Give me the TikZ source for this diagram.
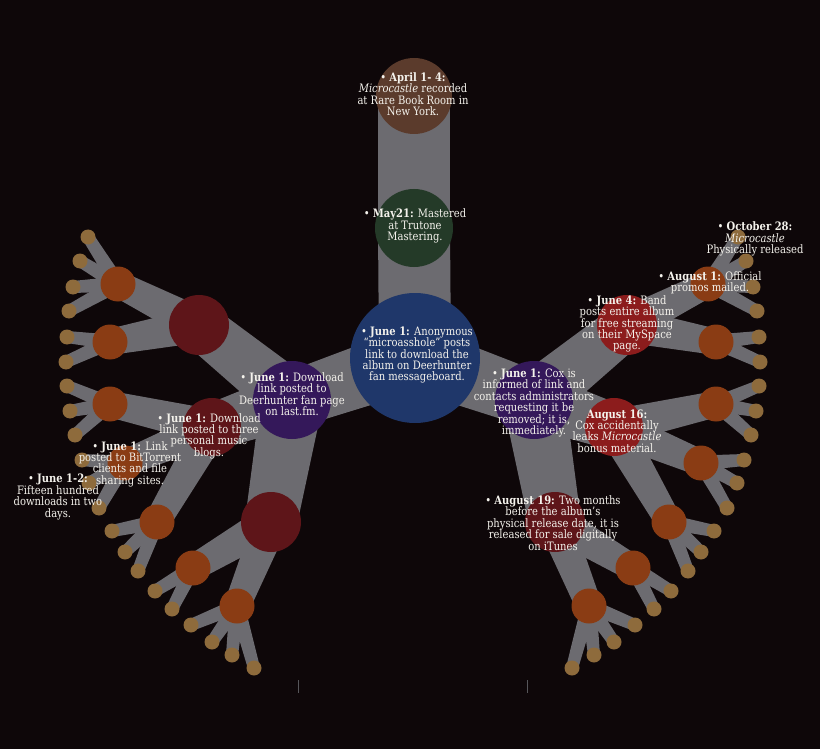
\documentclass[tikz,border=0pt]{standalone}
\usepackage{fontspec}
\setmainfont{DejaVu Serif}[FakeStretch=0.86]
\usetikzlibrary{calc}
\definecolor{bgc}{HTML}{0E0709}
\definecolor{branchc}{HTML}{6C6B70}
\definecolor{brownc}{HTML}{5B3B2C}
\definecolor{greenc}{HTML}{243A28}
\definecolor{bluec}{HTML}{1F376A}
\definecolor{purplec}{HTML}{34185A}
\definecolor{dredc}{HTML}{5E1519}
\definecolor{bredc}{HTML}{8C1C1C}
\definecolor{orangec}{HTML}{8A3C14}
\definecolor{tanc}{HTML}{8E6B3C}
\definecolor{txtc}{HTML}{F4F2EC}
\newcommand\twig[4]{\fill[branch] ($(#1)!#3!90:(#2)$) -- ($(#2)!#4!-90:(#1)$) -- ($(#2)!#4!90:(#1)$) -- ($(#1)!#3!-90:(#2)$) -- cycle;}
\begin{document}
\begin{tikzpicture}[x=1pt,y=-1pt,
  branch/.style={fill=branchc},
  disc/.style={circle,inner sep=0pt,minimum size=#1},
  txt/.style={text=txtc,align=center,inner sep=0pt,font=\fontsize{11.6}{11.4}\selectfont},
  tick/.style={draw=branchc!80!black,line width=0.8pt}]
\fill[bgc] (0,0) rectangle (820,749);
\useasboundingbox (0,0) rectangle (820,749);
% positions
\coordinate (Br) at (414,96);
\coordinate (G) at (414,228);
\coordinate (B) at (415,358);
\foreach \s/\p in {-1/L,1/R}{
  \coordinate (\p-P) at ({413+\s*121},400);
  \coordinate (\p-R1) at ({413+\s*214},325);
  \coordinate (\p-R2) at ({413+\s*201},427);
  \coordinate (\p-R3) at ({413+\s*142},522);
  \coordinate (\p-O1) at ({413+\s*295},284);
  \coordinate (\p-O2) at ({413+\s*303},342);
  \coordinate (\p-O3) at ({413+\s*303},404);
  \coordinate (\p-O4) at ({413+\s*288},463);
  \coordinate (\p-O5) at ({413+\s*256},522);
  \coordinate (\p-O6) at ({413+\s*220},568);
  \coordinate (\p-O7) at ({413+\s*176},606);
  \foreach \n/\dx/\y in {1/325/237,2/333/261,3/340/287,4/344/311,5/346/337,6/347/362,7/346/386,8/343/411,9/338/435,10/331/460,11/324/483,12/314/508,13/301/531,14/288/552,15/275/571,16/258/591,17/241/609,18/222/625,19/201/642,20/181/655,21/159/668}{
    \coordinate (\p-t\n) at ({413+\s*\dx},\y);
  }
}
% trunk and branches
\twig{Br}{G}{36pt}{36pt}
\twig{G}{B}{36pt}{36pt}
\foreach \p in {L,R}{
  \twig{B}{\p-P}{32pt}{28pt}
  \twig{\p-P}{\p-R1}{28pt}{23pt}
  \twig{\p-P}{\p-R2}{28pt}{23pt}
  \twig{\p-P}{\p-R3}{31pt}{26pt}
  \foreach \r/\o in {R1/O1,R1/O2,R2/O3,R2/O4,R2/O5,R3/O6,R3/O7}{\twig{\p-\r}{\p-\o}{17.5pt}{13pt}}
  \foreach \o/\t in {O1/1,O1/2,O1/3,O1/4,O2/5,O2/6,O3/7,O3/8,O3/9,O4/10,O4/11,O4/12,O5/13,O5/14,O5/15,O6/16,O6/17,O7/18,O7/19,O7/20,O7/21}{\twig{\p-\o}{\p-t\t}{7.5pt}{6pt}}
}
% circles
\node[disc=76pt,fill=brownc] (brown) at (Br) {};
\node[disc=78pt,fill=greenc] (green) at (G) {};
\node[disc=130pt,fill=bluec] (blue) at (B) {};
\foreach \p/\ca/\cb in {L/dredc/dredc,R/bredc/bredc}{
  \node[disc=78pt,fill=purplec] (\p-Pc) at (\p-P) {};
  \node[disc=60pt,fill=\ca] (\p-R1c) at (\p-R1) {};
  \node[disc=58pt,fill=\cb] (\p-R2c) at (\p-R2) {};
  \node[disc=60pt,fill=dredc] (\p-R3c) at (\p-R3) {};
  \foreach \o in {O1,O2,O3,O4,O5,O6,O7}{\node[disc=35pt,fill=orangec] (\p-\o c) at (\p-\o) {};}
  \foreach \n in {1,...,21}{\node[disc=15pt,fill=tanc] (\p-t\n c) at (\p-t\n) {};}
}
% small ticks at the bottom
\coordinate (k1a) at (298,680); \coordinate (k1b) at (298,693);
\coordinate (k2a) at (527,680); \coordinate (k2b) at (527,693);
\draw[tick] (k1a) -- (k1b);
\draw[tick] (k2a) -- (k2b);
% texts
\node[txt] (tA) at (413,94) {• \textbf{April 1- 4:}\\ \textit{Microcastle} recorded\\ at Rare Book Room in\\ New York.};
\node[txt] (tB) at (415,226) {• \textbf{May21:} Mastered\\ at Trutone\\ Mastering.};
\node[txt] (tC) at (417,355) {• \textbf{June 1:} Anonymous\\ “microasshole” posts\\ link to download the\\ album on Deerhunter\\ fan messageboard.};
\node[txt] (tD) at (292,394) {• \textbf{June 1:} Download\\ link posted to\\ Deerhunter fan page\\ on last.fm.};
\node[txt] (tE) at (209,436) {• \textbf{June 1:} Download\\ link posted to three\\ personal music\\ blogs.};
\node[txt] (tF) at (130,464) {• \textbf{June 1:} Link\\ posted to BitTorrent\\ clients and file\\ sharing sites.};
\node[txt] (tG) at (58,497) {• \textbf{June 1-2:}\\ Fifteen hundred\\ downloads in two\\ days.};
\node[txt] (tH) at (534,403) {• \textbf{June 1:} Cox is\\ informed of link and\\ contacts administrators\\ requesting it be\\ removed; it is,\\ immediately.};
\node[txt] (tI) at (627,324) {• \textbf{June 4:} Band\\ posts entire album\\ for free streaming\\ on their MySpace\\ page.};
\node[txt] (tJ) at (710,283) {• \textbf{August 1:} Official\\ promos mailed.};
\node[txt] (tK) at (755,239) {• \textbf{October 28:}\\ \textit{Microcastle}\\ Physically released};
\node[txt] (tL) at (617,431) {\textbf{August 16:}\\ Cox accidentally\\ leaks \textit{Microcastle}\\ bonus material.};
\node[txt] (tM) at (553,523) {• \textbf{August 19:} Two months\\ before the album’s\\ physical release date, it is\\ released for sale digitally\\ on iTunes};
\end{tikzpicture}
\end{document}
